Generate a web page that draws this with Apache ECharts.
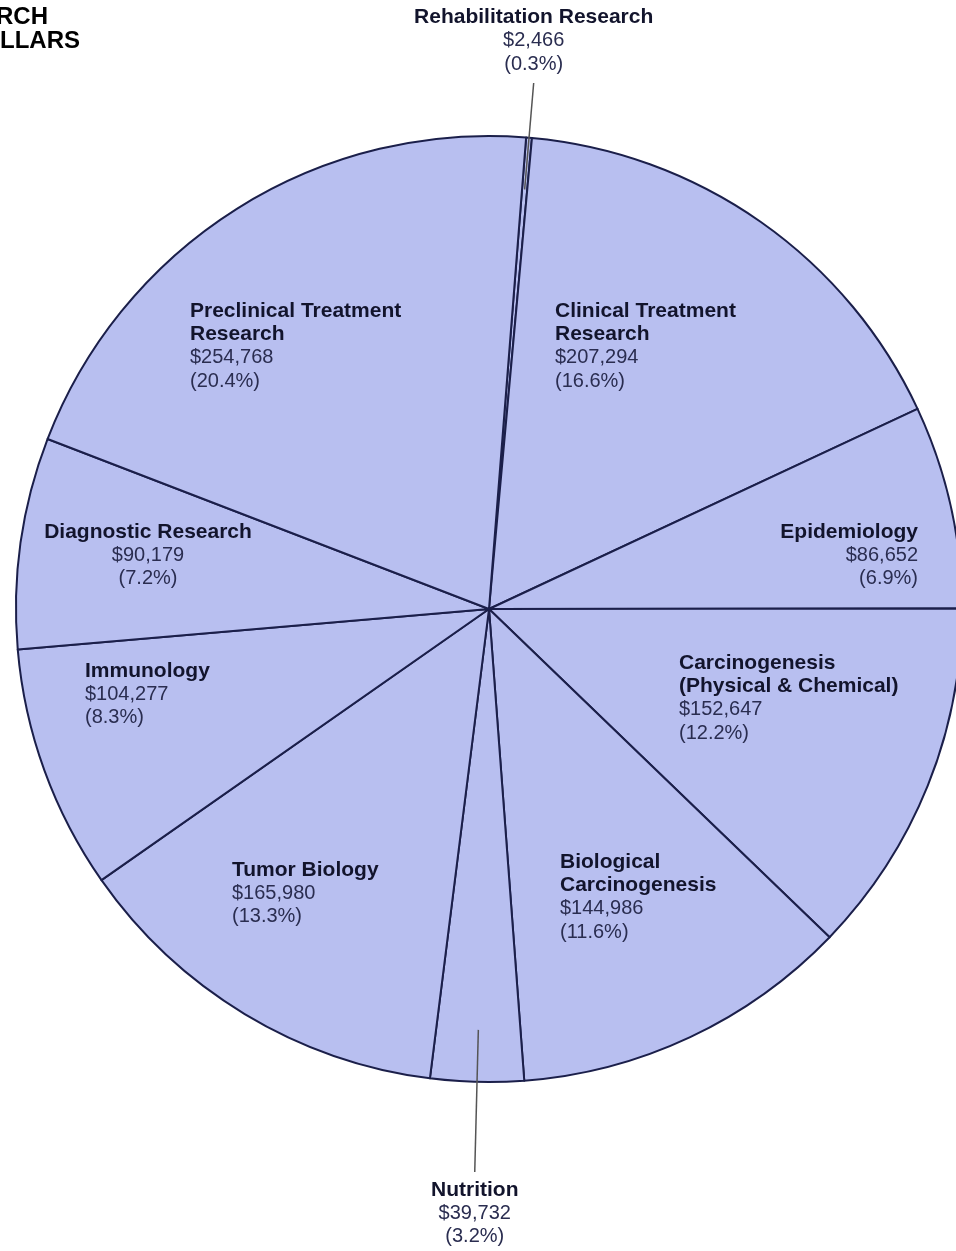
<!DOCTYPE html>
<html><head><meta charset="utf-8">
<script src="https://cdn.jsdelivr.net/npm/echarts@6/dist/echarts.min.js"></script>
<style>html,body{margin:0;padding:0;background:#fff}#c{width:956px;height:1251px}</style>
</head><body><div id="c"></div>
<script>
// ---- data ----
const categories = ['Rehabilitation Research', 'Clinical Treatment\nResearch', 'Epidemiology',
  'Carcinogenesis\n(Physical & Chemical)', 'Biological\nCarcinogenesis', 'Nutrition',
  'Tumor Biology', 'Immunology', 'Diagnostic Research', 'Preclinical Treatment\nResearch'];
const dollars = [2466, 207294, 86652, 152647, 144986, 39732, 165980, 104277, 90179, 254768];
const percents = ['0.3', '16.6', '6.9', '12.2', '11.6', '3.2', '13.3', '8.3', '7.2', '20.4'];
const titleLines = ['RESEARCH', 'DOLLARS'];

// ---- layout ----
const CX = 489, CY = 609, R = 473;
const FONT = '"Liberation Sans", Arial, Helvetica, sans-serif';
const labelSpots = [
  {outside: true, y: 76, lineEnd: 83},
  {x: 555, y: 299, align: 'left'},
  {x: 918, y: 520, align: 'right'},
  {x: 679, y: 651, align: 'left'},
  {x: 560, y: 850, align: 'left'},
  {outside: true, y: 1178, lineEnd: 1172},
  {x: 232, y: 858, align: 'left'},
  {x: 85, y: 659, align: 'left'},
  {x: 148, y: 520, align: 'center'},
  {x: 190, y: 299, align: 'left'}
];
const LEADER_INSET = 52;

function fmt(i) {
  const nameLines = categories[i].split('\n').map(s => '{b|' + s + '}');
  return nameLines.concat(['{v|$' + dollars[i].toLocaleString('en-US') + '}', '{v|(' + percents[i] + '%)}']).join('\n');
}

const data = categories.map((c, i) => {
  const out = !!labelSpots[i].outside;
  return {
    name: c, value: dollars[i],
    label: {position: out ? 'outside' : 'inside'},
    labelLine: {show: out}
  };
});

function leader(dirX, dirY, s) {
  const t0 = R - LEADER_INSET;
  const t1 = (s.lineEnd - CY) / dirY;
  return {p0: [CX + dirX * t0, CY + dirY * t0], p1: [CX + dirX * t1, s.lineEnd]};
}

const titleGraphics = titleLines.map((t, i) => ({
  type: 'text', x: 48 + i * 32, y: 17 + i * 24.5, z: 10,
  style: {text: t, align: 'right', verticalAlign: 'middle', font: 'bold 24px ' + FONT, fill: '#000'}
}));

const chart = echarts.init(document.getElementById('c'), null, {renderer: 'canvas'});
chart.setOption({
  animation: false,
  backgroundColor: '#ffffff',
  graphic: titleGraphics,
  series: [{
    type: 'pie',
    center: [CX, CY],
    radius: R,
    startAngle: 85.5,
    clockwise: true,
    avoidLabelOverlap: false,
    silent: true,
    itemStyle: {color: '#b8bff0', borderColor: '#1b1f4a', borderWidth: 2},
    label: {
      show: true,
      formatter: p => fmt(p.dataIndex),
      color: '#14162e',
      textBorderWidth: 0,
      rich: {
        b: {fontFamily: FONT, fontWeight: 'bold', fontSize: 21, lineHeight: 23.5, color: '#12142c'},
        v: {fontFamily: FONT, fontWeight: 'normal', fontSize: 20, lineHeight: 23.5, color: '#2a2d50'}
      }
    },
    labelLine: {lineStyle: {color: '#555', width: 1.5, opacity: 0}, length: 40, length2: 0},
    labelLayout: function (p) {
      const s = labelSpots[p.dataIndex];
      if (s.outside && p.labelLinePoints) {
        const e = p.labelLinePoints[0];
        let dx = e[0] - CX, dy = e[1] - CY;
        const len = Math.hypot(dx, dy); dx /= len; dy /= len;
        const L = leader(dx, dy, s);
        return {x: L.p1[0], y: s.y, align: 'center', verticalAlign: dy < 0 ? 'bottom' : 'top'};
      }
      return {x: s.x, y: s.y, align: s.align, verticalAlign: 'top'};
    },
    data: data
  }]
});

// leader lines drawn from the pie's own computed sector layout
const seriesData = chart.getModel().getSeriesByIndex(0).getData();
const leaders = [];
labelSpots.forEach((s, i) => {
  if (!s.outside) return;
  const lay = seriesData.getItemLayout(i);
  const mid = (lay.startAngle + lay.endAngle) / 2;
  const L = leader(Math.cos(mid), Math.sin(mid), s);
  leaders.push({
    type: 'line', z: 20, silent: true,
    shape: {x1: L.p0[0], y1: L.p0[1], x2: L.p1[0], y2: L.p1[1]},
    style: {stroke: '#555', lineWidth: 1.5}
  });
});
chart.setOption({graphic: titleGraphics.concat(leaders)}, {replaceMerge: ['graphic']});
</script>
</body></html>
